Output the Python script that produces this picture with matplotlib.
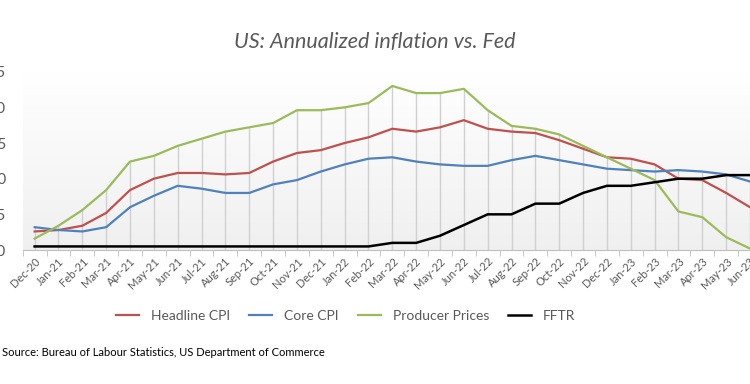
import numpy as np
import matplotlib
matplotlib.use("Agg")
import matplotlib.pyplot as plt
from matplotlib.ticker import FixedLocator, FuncFormatter

plt.rcParams['font.family'] = ['Lato', 'DejaVu Sans']

# monthly readings, Dec-20 .. Jun-23
months = ['Dec-20', 'Jan-21', 'Feb-21', 'Mar-21', 'Apr-21', 'May-21', 'Jun-21', 'Jul-21',
          'Aug-21', 'Sep-21', 'Oct-21', 'Nov-21', 'Dec-21', 'Jan-22', 'Feb-22', 'Mar-22',
          'Apr-22', 'May-22', 'Jun-22', 'Jul-22', 'Aug-22', 'Sep-22', 'Oct-22', 'Nov-22',
          'Dec-22', 'Jan-23', 'Feb-23', 'Mar-23', 'Apr-23', 'May-23', 'Jun-23']
headline_cpi = [1.3, 1.4, 1.7, 2.6, 4.2, 5.0, 5.4, 5.4, 5.3, 5.4, 6.2, 6.8, 7.0, 7.5, 7.9, 8.5,
                8.3, 8.6, 9.1, 8.5, 8.3, 8.2, 7.7, 7.1, 6.5, 6.4, 6.0, 5.0, 4.9, 4.0, 3.0]
core_cpi = [1.6, 1.4, 1.3, 1.6, 3.0, 3.8, 4.5, 4.3, 4.0, 4.0, 4.6, 4.9, 5.5, 6.0, 6.4, 6.5,
            6.2, 6.0, 5.9, 5.9, 6.3, 6.6, 6.3, 6.0, 5.7, 5.6, 5.5, 5.6, 5.5, 5.3, 4.8]
producer_prices = [0.8, 1.7, 2.8, 4.2, 6.2, 6.6, 7.3, 7.8, 8.3, 8.6, 8.9, 9.8, 9.8, 10.0, 10.3, 11.5,
                   11.0, 11.0, 11.3, 9.8, 8.7, 8.5, 8.1, 7.3, 6.5, 5.7, 4.9, 2.7, 2.3, 0.9, 0.1]
fftr = [0.25, 0.25, 0.25, 0.25, 0.25, 0.25, 0.25, 0.25, 0.25, 0.25, 0.25, 0.25, 0.25, 0.25, 0.25, 0.5,
        0.5, 1.0, 1.75, 2.5, 2.5, 3.25, 3.25, 4.0, 4.5, 4.5, 4.75, 5.0, 5.0, 5.25, 5.25]

grey = '#595959'
x = np.arange(len(months))

fig = plt.figure(figsize=(7.5, 3.84), dpi=100)
ax = fig.add_axes([22.7 / 750, 1 - 250 / 384, 1 - 22.7 / 750, (250 - 71.7) / 384])
ax.set_xlim(-0.5, -0.5 + (750 - 22.7) / 24)
ax.set_ylim(0, 12.5)

# soft gradient in the plot area
grad = np.linspace(1.0, 0.94, 256).reshape(-1, 1)
ax.imshow(np.dstack([grad, grad, grad]), extent=[0, 1, 0, 1], transform=ax.transAxes,
          aspect='auto', zorder=0, interpolation='bicubic')

# drop lines from the highest series down to the axis
tops = np.max([headline_cpi, core_cpi, producer_prices, fftr], axis=0)
ax.vlines(x, 0, tops, color='#d0d0d0', lw=1, zorder=1)

ax.plot(x, headline_cpi, color='#C0504D', lw=1.6, label='Headline CPI', zorder=3)
ax.plot(x, core_cpi, color='#4F81BD', lw=1.6, label='Core CPI', zorder=3)
ax.plot(x, producer_prices, color='#9BBB59', lw=1.6, label='Producer Prices', zorder=3)
ax.plot(x, fftr, color='black', lw=1.8, label='FFTR', zorder=3)

for s in ['top', 'right', 'left']:
    ax.spines[s].set_visible(False)
ax.spines['bottom'].set_color('#bfbfbf')

ax.set_xticks(x)
ax.set_xticklabels(months, rotation=45, ha='right', rotation_mode='anchor', color=grey, fontsize=8)
ax.tick_params(axis='x', which='major', length=0, pad=4)
ax.xaxis.set_minor_locator(FixedLocator(np.arange(-0.5, 31, 1)))
ax.tick_params(axis='x', which='minor', length=4, color='#bfbfbf')

ax.set_yticks(np.arange(0, 12.6, 2.5))
ax.yaxis.set_major_formatter(FuncFormatter(lambda v, p: f'{v:.1f}'.replace('.', ',')))
ax.tick_params(axis='y', length=0, pad=12, labelcolor=grey, labelsize=11)

fig.text(0.5, 1 - 42 / 384, 'US: Annualized inflation vs. Fed', ha='center', va='center',
         fontsize=15.5, style='italic', color=grey)

leg = fig.legend(loc='center', bbox_to_anchor=(0.461, 1 - 316 / 384), ncol=4, frameon=False,
                 fontsize=10, handlelength=1.65, handletextpad=0.87, columnspacing=1.37)
for t in leg.get_texts():
    t.set_color(grey)

fig.text(2 / 750, 1 - 352 / 384, 'Source: Bureau of Labour Statistics, US Department of Commerce',
         ha='left', va='center', fontsize=8, color='black')

fig.savefig('out.png', dpi=100)
